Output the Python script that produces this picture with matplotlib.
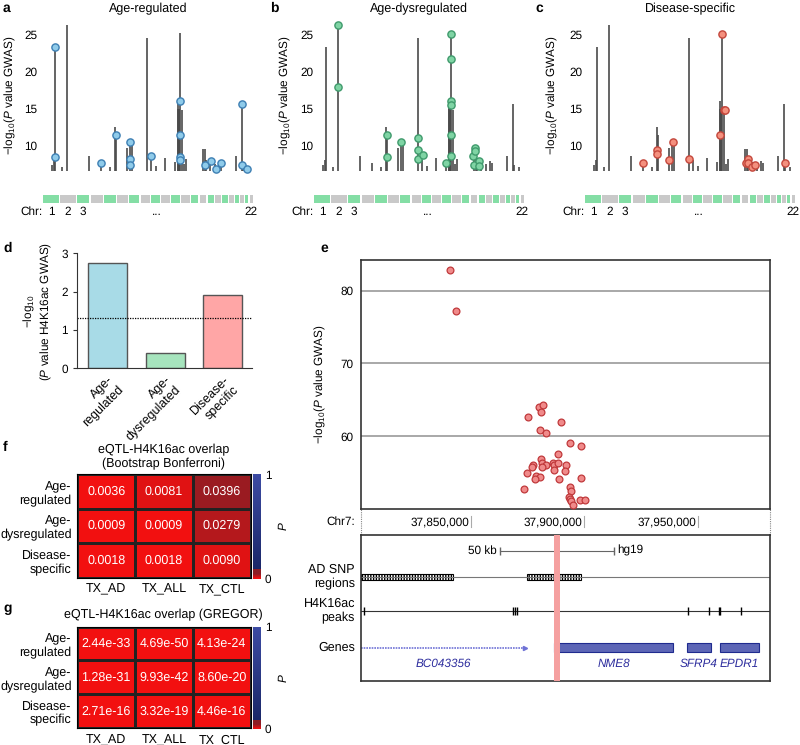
import numpy as np
import matplotlib.pyplot as plt
from matplotlib.colors import LinearSegmentedColormap
from matplotlib.patches import Rectangle

plt.rcParams['font.family'] = ['Liberation Sans', 'DejaVu Sans']
plt.rcParams['mathtext.fontset'] = 'custom'
plt.rcParams['mathtext.rm'] = 'Liberation Sans'
plt.rcParams['mathtext.it'] = 'Liberation Sans:italic'
plt.rcParams['font.size'] = 8.5
plt.rcParams['text.hinting'] = 'no_hinting'

W, H = 800, 745

# ---------------- data: panels a-c (GWAS loci along the genome, Mb) ----------------
chrom_len = [249, 243, 198, 191, 181, 171, 159, 146, 141, 136, 135,
             134, 115, 107, 102, 90, 81, 78, 59, 63, 48, 51]
chrom_gap = 20
locus_pos = [146, 165, 184, 306, 372, 722, 906, 1047, 1138, 1151,
             1314, 1374, 1405, 1636, 1703, 1782, 1912, 2068, 2127, 2124,
             2131, 2138, 2146, 2187, 2214, 2240, 2512, 2551, 2559, 2630,
             2700, 2763, 2802, 3030, 3127, 3140, 3218]
locus_height = [7.4, 8.1, 23.4, 7.1, 26.3, 8.6, 7.7, 7.1, 12.6, 11.5,
                9.7, 10.7, 10.9, 24.6, 8.0, 7.3, 8.3, 7.8, 16.0, 15.0,
                15.0, 15.0, 25.3, 14.8, 7.5, 8.2, 9.6, 9.6, 8.0, 7.8,
                7.5, 7.9, 7.6, 8.6, 15.7, 7.4, 7.1]

age_reg_pos = [184, 184, 906, 1151, 1366, 1366, 1366, 1696, 2146, 2146,
               2146, 2146, 2543, 2633, 2711, 2795, 3124, 3124, 3198]
age_reg_val = [23.4, 8.5, 7.7, 11.5, 10.5, 8.2, 7.4, 8.6, 16.0, 11.4,
               8.5, 8.1, 7.4, 7.9, 6.9, 7.7, 15.7, 7.4, 6.8]

age_dys_pos = [372, 372, 1151, 1151, 1374, 1636, 1636, 1636, 1706, 2068,
               2146, 2146, 2146, 2146, 2146, 2146, 2496, 2512, 2527, 2527,
               2590, 2590]
age_dys_val = [26.3, 17.9, 11.5, 8.5, 10.5, 11.1, 9.4, 8.2, 8.7, 7.7,
               25.1, 21.7, 16.1, 15.5, 11.4, 8.6, 8.6, 7.4, 9.7, 9.3,
               7.9, 7.3]

dis_pos = [918, 1138, 1138, 1320, 1377, 1636, 2127, 2146, 2180, 2192,
           2528, 2559, 2559, 2620, 2667, 3140]
dis_val = [7.6, 9.4, 8.9, 8.0, 10.5, 8.2, 11.4, 25.1, 14.9, 14.9,
           7.6, 8.2, 7.6, 7.1, 7.4, 7.6]

# ---------------- data: panel d ----------------
d_groups = ['Age-\nregulated', 'Age-\ndysregulated', 'Disease-\nspecific']
d_values = [2.75, 0.39, 1.91]

# ---------------- data: panel e (chr7 locus) ----------------
e_pos = [37841000, 37843500, 37880200, 37881950, 37880800, 37875100, 37889700,
         37880500, 37883100, 37893500, 37898500, 37888500, 37880800, 37877500,
         37881200, 37883100, 37881200, 37886100, 37886800, 37888500, 37886500,
         37891800, 37891500, 37876800, 37874600, 37878600, 37880500, 37878300,
         37889000, 37898400, 37873500, 37893800, 37894200, 37893100, 37893700,
         37894200, 37894900, 37898300, 37900300]
e_val = [82.8, 77.2, 64.0, 64.3, 63.3, 62.6, 62.0,
         60.8, 60.4, 59.0, 58.6, 57.5, 56.8, 56.0,
         56.3, 56.0, 55.8, 56.3, 56.0, 56.3, 55.3,
         56.1, 55.2, 55.8, 55.0, 54.5, 54.4, 54.1,
         54.1, 54.2, 52.8, 53.0, 52.5, 51.6, 51.4,
         51.1, 50.6, 51.2, 51.2]
chr7_ticks = [37850000, 37900000, 37950000]
ad_snp_start = [37801600, 37874900]
ad_snp_end = [37842100, 37898500]
peak_pos = [37803100, 37868700, 37869600, 37870500, 37887800, 37945700,
            37954800, 37959400, 37959900, 37968900]
gene_names = ['BC043356', 'NME8', 'SFRP4', 'EPDR1']
gene_start = [37801600, 37886800, 37945000, 37959700]
gene_end = [37874000, 37939150, 37955600, 37976900]
highlight = (37886650, 37889300)

# ---------------- data: panels f, g ----------------
row_labels = ['Age-\nregulated', 'Age-\ndysregulated', 'Disease-\nspecific']
col_labels = ['TX_AD', 'TX_ALL', 'TX_CTL']
f_vals = [[0.0036, 0.0081, 0.0396],
          [0.0009, 0.0009, 0.0279],
          [0.0018, 0.0018, 0.0090]]
g_vals = [[2.44e-33, 4.69e-50, 4.13e-24],
          [1.28e-31, 9.93e-42, 8.60e-20],
          [2.71e-16, 3.32e-19, 4.46e-16]]

fig = plt.figure(figsize=(8, 7.45), dpi=100)


def px_axes(x0, y0, x1, y1):
    return fig.add_axes([x0 / W, 1 - y1 / H, (x1 - x0) / W, (y1 - y0) / H])


def ftext(x, y, s, **kw):
    fig.text(x / W, 1 - y / H, s, **kw)


gwas_label = '\u2212log$_{10}$($P$ value GWAS)'

# ---------------- panels a-c ----------------
chrom_start = np.concatenate([[0], np.cumsum(np.array(chrom_len) + chrom_gap)[:-1]])
genome_end = chrom_start[-1] + chrom_len[-1]
panels = [('a', 'Age-regulated', 43, age_reg_pos, age_reg_val, '#8fcbea', '#3d7fb3', 6, 18, 3),
          ('b', 'Age-dysregulated', 314, age_dys_pos, age_dys_val, '#7fd4a4', '#3f9a6c', 0.5, 293, 270),
          ('c', 'Disease-specific', 585, dis_pos, dis_val, '#f4907e', '#c4473c', 3, 560, 535)]
for letter, title, x0, px, py, fc, ec, pad, lab_x, let_x in panels:
    ax = px_axes(x0, 20.2, x0 + 210, 170.8)
    ax.vlines(locus_pos, 6.6, locus_height, color='#4a4a4a', lw=1.2)
    ax.plot(px, py, 'o', ms=5.2, mfc=fc, mec=ec, mew=1, zorder=3, clip_on=False)
    ax.set_xlim(0, genome_end)
    ax.set_ylim(6.6, 27)
    ax.set_yticks([10, 15, 20, 25])
    ax.set_xticks([])
    ax.tick_params(axis='y', length=0, pad=pad * 0.72)
    for s in ax.spines.values():
        s.set_visible(False)
    ax.patch.set_alpha(0)
    ax.set_ylabel(gwas_label)
    ax.yaxis.set_label_coords((lab_x - x0) / 210, 0.5)

    axs = px_axes(x0, 195, x0 + 210, 203.3)
    for i, (st, ln) in enumerate(zip(chrom_start, chrom_len)):
        axs.add_patch(Rectangle((st, 0), ln, 1, color=['#84dea5', '#c9c9c9'][i % 2], lw=0))
    axs.set_xlim(0, genome_end)
    axs.set_ylim(0, 1)
    axs.axis('off')
    axs.text(-10, -1.05, 'Chr:', ha='right', va='center')
    for k in [0, 1, 2, 21]:
        axs.text(chrom_start[k] + chrom_len[k] / 2, -1.05, str(k + 1), ha='center', va='center')
    axs.text(0.54 * genome_end, -1.05, '...', ha='center', va='center')

    ftext(x0 + 105, 9, title, ha='center', va='center', fontsize=9)
    ftext(let_x, 8, letter, fontweight='bold', fontsize=10, ha='left', va='center')

# ---------------- panel d ----------------
axd = px_axes(77, 253.3, 252, 368.3)
axd.bar(range(3), d_values, width=0.68, color=['#a8dbe7', '#a6e4bd', '#ffa6a6'],
        edgecolor='#555555', lw=1)
axd.axhline(-np.log10(0.05), ls=(0, (1, 1)), color='k', lw=0.9)
axd.set_xlim(-0.53, 2.51)
axd.set_ylim(0, 3)
axd.set_yticks([0, 1, 2, 3])
axd.set_xticks(range(3))
axd.set_xticklabels(d_groups, rotation=45, ha='right', va='top',
                    rotation_mode='anchor', ma='right', fontsize=9)
axd.tick_params(axis='x', length=0, pad=4)
axd.tick_params(axis='y', length=3, color='#333')
for s in ['top', 'right']:
    axd.spines[s].set_visible(False)
for s in ['left', 'bottom']:
    axd.spines[s].set_color('#333')
ftext(38, 311, '\u2212log$_{10}$\n($P$ value H4K16ac GWAS)', rotation=90,
      ha='center', va='center', ma='center')
ftext(3, 248, 'd', fontweight='bold', fontsize=10, va='center')

# ---------------- panel e ----------------
xl = (37801600, 37981700)
axe = px_axes(360.7, 260, 770, 509)
axe.scatter(e_pos, e_val, s=24, c='#f08a8a', edgecolors='#c0393b', lw=0.9, zorder=3)
axe.set_xlim(*xl)
axe.set_ylim(50, 84.2)
axe.set_yticks([60, 70, 80])
axe.set_xticks([])
axe.yaxis.grid(True, color='#9a9a9a', lw=1.2)
axe.set_axisbelow(True)
axe.tick_params(length=0, pad=5)
for s in axe.spines.values():
    s.set_color('#333')
    s.set_linewidth(1.2)
ftext(320, 384.5, gwas_label, rotation=90, ha='center', va='center')
ftext(320, 248, 'e', fontweight='bold', fontsize=10, va='center')

axc = px_axes(360.7, 509, 770, 535)
axc.set_xlim(*xl)
axc.set_ylim(0, 1)
axc.axis('off')
for xv in xl:
    axc.plot([xv, xv], [0, 1], ls=(0, (1, 1)), color='#888', lw=0.8, clip_on=False)
for v in chr7_ticks:
    axc.text(v - 700, 0.5, f'{v:,}', ha='right', va='center')
    axc.plot([v, v], [0.3, 0.72], color='#aaa', lw=0.8)
ftext(355, 521.7, 'Chr7:', ha='right', va='center')

axt = px_axes(360.7, 535, 770, 681)
axt.set_xlim(*xl)
axt.set_ylim(0, 1)
axt.set_xticks([])
axt.set_yticks([])
for s in axt.spines.values():
    s.set_color('#333')
    s.set_linewidth(1.2)
# scale bar
axt.plot([37863000, 37913000], [0.892, 0.892], color='#666', lw=0.8,
         marker='|', ms=6, mec='#666')
axt.text(37861500, 0.892, '50 kb', ha='right', va='center')
axt.text(37914500, 0.892, 'hg19', ha='left', va='center')
# AD SNP regions
axt.axhline(0.714, color='#777', lw=0.8)
for s0, s1 in zip(ad_snp_start, ad_snp_end):
    axt.add_patch(Rectangle((s0, 0.695), s1 - s0, 0.038, fc='white', ec='black',
                            hatch='||||||', lw=0.8))
# peaks
axt.axhline(0.479, color='#333', lw=0.8)
axt.vlines(peak_pos, 0.449, 0.509, color='black', lw=1)
# genes
for name, g0, g1 in zip(gene_names, gene_start, gene_end):
    if name == 'BC043356':
        axt.plot([g0, g1], [0.228, 0.228], color='#6f72d6', lw=1.2, ls=(0, (1, 0.6)))
        axt.plot([g1], [0.228], marker='>', ms=3, color='#6f72d6')
    else:
        axt.add_patch(Rectangle((g0, 0.197), g1 - g0, 0.062, fc='#5d66b6',
                                ec='#1f2b8f', lw=0.8))
    axt.text((g0 + g1) / 2, 0.12, name, ha='center', va='center',
             style='italic', color='#2e2e9e', fontsize=8.5)
axt.axvspan(*highlight, color='#f5a0a0', lw=0, zorder=5)
ftext(355, 577, 'AD SNP\nregions', ha='right', va='center', ma='right', fontsize=9)
ftext(355, 611, 'H4K16ac\npeaks', ha='right', va='center', ma='right', fontsize=9)
ftext(355, 648, 'Genes', ha='right', va='center', fontsize=9)

# ---------------- panels f, g ----------------
cmap = LinearSegmentedColormap.from_list('pcmap', [
    (0.0, '#f21010'), (0.045, '#8d1d24'), (0.09, '#8d1d24'),
    (0.0901, '#1a2768'), (1.0, '#3c4ba3')])


def heat(y0, y1, vals, fmt, title, title_y, letter, letter_y):
    ax = px_axes(77.3, y0, 250.5, y1)
    mesh = ax.pcolormesh(np.array(vals), cmap=cmap, vmin=0, vmax=1,
                         edgecolors='#222', lw=0.8)
    ax.set_xlim(0, 3)
    ax.set_ylim(3, 0)
    for i in range(3):
        for j in range(3):
            ax.text(j + 0.5, i + 0.5, fmt(vals[i][j]), color='white',
                    ha='center', va='center', fontsize=9)
    ax.set_xticks([0.5, 1.5, 2.5])
    ax.set_xticklabels(col_labels, fontsize=9)
    ax.set_yticks([0.5, 1.5, 2.5])
    ax.set_yticklabels(row_labels, ma='right', fontsize=9)
    ax.tick_params(length=0, pad=4)
    cax = px_axes(252.7, y0, 260.7, y1 + 1)
    cb = fig.colorbar(mesh, cax=cax, ticks=[0, 1])
    cb.outline.set_visible(False)
    cax.tick_params(length=0, pad=3)
    cax.set_yticklabels(['0', '1'])
    cb.set_label('$P$', rotation=90, labelpad=4)
    ftext(163.5, title_y, title, ha='center', va='center', ma='center', fontsize=9)
    ftext(3, letter_y, letter, fontweight='bold', fontsize=10, va='center')


heat(474.3, 577.7, f_vals, lambda v: f'{v:.4f}',
     'eQTL-H4K16ac overlap\n(Bootstrap Bonferroni)', 457, 'f', 447)
heat(626.7, 728.0, g_vals, lambda v: f'{v:.2e}',
     'eQTL-H4K16ac overlap (GREGOR)', 615, 'g', 608)

fig.savefig('out.png', dpi=100)
